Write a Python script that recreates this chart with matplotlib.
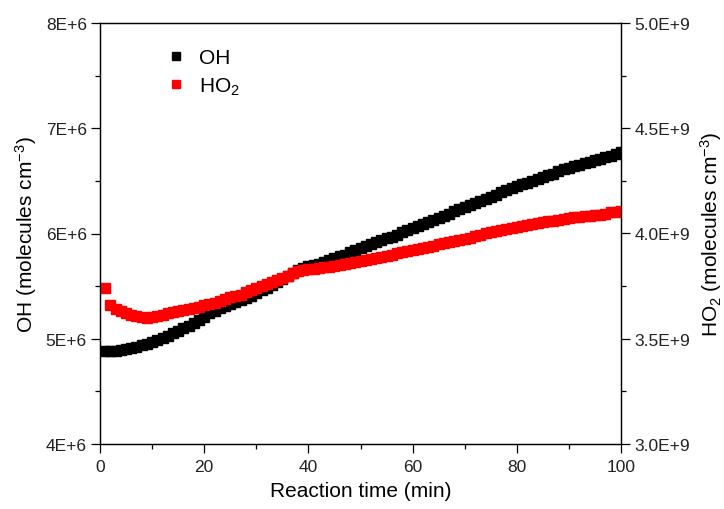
import numpy as np
import matplotlib
matplotlib.use('Agg')
import matplotlib.pyplot as plt
from matplotlib.ticker import FuncFormatter, MultipleLocator

plt.rcParams['font.family'] = ['Liberation Sans', 'DejaVu Sans']
plt.rcParams['mathtext.fontset'] = 'custom'
plt.rcParams['mathtext.rm'] = 'Liberation Sans'
plt.rcParams['mathtext.it'] = 'Liberation Sans:italic'

# reaction time (min)
time_min = list(range(1, 101))

# OH concentration, units of 1E+6 molecules cm-3
oh = [4.88, 4.88, 4.88, 4.89, 4.90, 4.91, 4.92, 4.94, 4.95, 4.97,
      4.99, 5.01, 5.03, 5.05, 5.07, 5.10, 5.12, 5.15, 5.18, 5.21,
      5.24, 5.26, 5.29, 5.31, 5.33, 5.35, 5.37, 5.39, 5.41, 5.43,
      5.46, 5.48, 5.51, 5.54, 5.57, 5.60, 5.62, 5.65, 5.67, 5.69,
      5.70, 5.71, 5.73, 5.75, 5.77, 5.79, 5.80, 5.82, 5.84, 5.86,
      5.88, 5.90, 5.92, 5.94, 5.96, 5.97, 5.99, 6.01, 6.03, 6.05,
      6.07, 6.09, 6.11, 6.13, 6.15, 6.17, 6.19, 6.21, 6.23, 6.25,
      6.27, 6.29, 6.31, 6.33, 6.35, 6.37, 6.39, 6.41, 6.43, 6.45,
      6.47, 6.48, 6.50, 6.52, 6.54, 6.56, 6.57, 6.59, 6.61, 6.62,
      6.64, 6.65, 6.67, 6.68, 6.70, 6.71, 6.73, 6.74, 6.76, 6.77]

# HO2 concentration, units of 1E+9 molecules cm-3
ho2 = [3.74, 3.66, 3.64, 3.63, 3.62, 3.615, 3.61, 3.605, 3.60, 3.605,
       3.61, 3.615, 3.62, 3.625, 3.63, 3.635, 3.64, 3.645, 3.65, 3.66,
       3.665, 3.67, 3.68, 3.69, 3.70, 3.705, 3.71, 3.72, 3.73, 3.74,
       3.75, 3.76, 3.77, 3.78, 3.79, 3.80, 3.81, 3.82, 3.825, 3.83,
       3.83, 3.835, 3.84, 3.84, 3.845, 3.85, 3.855, 3.86, 3.865, 3.87,
       3.875, 3.88, 3.885, 3.89, 3.895, 3.90, 3.905, 3.91, 3.915, 3.92,
       3.925, 3.93, 3.935, 3.94, 3.95, 3.955, 3.96, 3.965, 3.97, 3.975,
       3.98, 3.99, 3.995, 4.00, 4.005, 4.01, 4.015, 4.02, 4.025, 4.03,
       4.035, 4.04, 4.045, 4.05, 4.055, 4.06, 4.06, 4.065, 4.07, 4.075,
       4.08, 4.08, 4.085, 4.085, 4.09, 4.09, 4.095, 4.10, 4.10, 4.105]

fig = plt.figure(figsize=(7.24, 5.10), dpi=100)
ax = fig.add_axes([100/724, 65/510, 521/724, 421/510])
ax2 = ax.twinx()

ax.plot(time_min, np.array(oh) * 1e6, 's', color='black', ms=7, mec='black', label='OH')
ax2.plot(time_min, np.array(ho2) * 1e9, 's', color='red', ms=7, mec='red', label='HO$_2$')

ax.set_xlim(0, 100)
ax.set_ylim(4e6, 8e6)
ax2.set_ylim(3e9, 5e9)

ax.xaxis.set_major_locator(MultipleLocator(20))
ax.xaxis.set_minor_locator(MultipleLocator(10))
ax.yaxis.set_major_locator(MultipleLocator(1e6))
ax.yaxis.set_minor_locator(MultipleLocator(5e5))
ax2.yaxis.set_major_locator(MultipleLocator(5e8))
ax2.yaxis.set_minor_locator(MultipleLocator(2.5e8))

ax.yaxis.set_major_formatter(FuncFormatter(lambda v, p: f'{v/1e6:.0f}E+6'))
ax2.yaxis.set_major_formatter(FuncFormatter(lambda v, p: f'{v/1e9:.1f}E+9'))

for a in (ax, ax2):
    a.tick_params(which='major', direction='out', length=6.5, width=0.9, labelsize=12.5, colors='black')
    a.tick_params(which='minor', direction='out', length=3.5, width=0.9)
    a.tick_params(labelcolor='#222222')
    for s in a.spines.values():
        s.set_linewidth(0.9)
ax.tick_params(axis='x', pad=4)
ax.tick_params(axis='y', pad=3)
ax2.tick_params(axis='y', pad=3)

ax.set_xlabel('Reaction time (min)', fontsize=15, labelpad=5)
ax.set_ylabel('OH (molecules cm$^{-3}$)', fontsize=15, labelpad=5)
ax2.set_ylabel('HO$_2$ (molecules cm$^{-3}$)', fontsize=15, labelpad=6)

h1, l1 = ax.get_legend_handles_labels()
h2, l2 = ax2.get_legend_handles_labels()
ax.legend(h1 + h2, l1 + l2, loc='upper left', bbox_to_anchor=(0.09, 0.985), frameon=False,
          fontsize=15, markerscale=0.85, handletextpad=0.6, handlelength=1.0, labelspacing=0.4)

fig.savefig('out.png', dpi=100)
